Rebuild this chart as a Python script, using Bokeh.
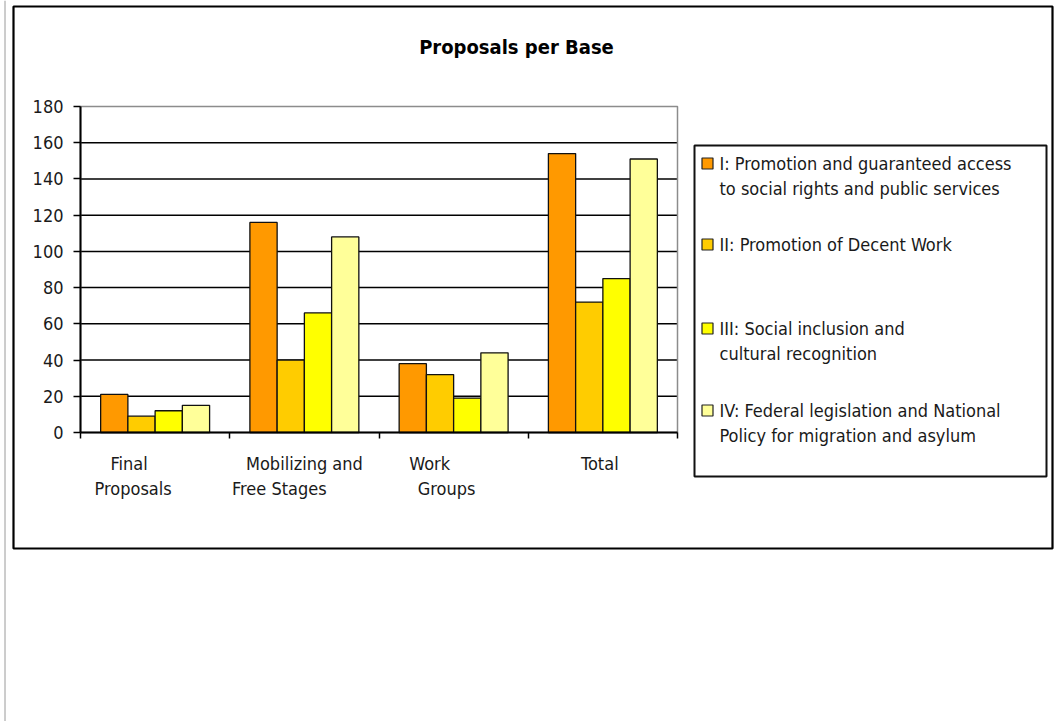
from bokeh.plotting import figure
from bokeh.models import (FixedTicker, Label, Range1d, ColumnDataSource,
                          LinearAxis, BoxAnnotation, Span)
from bokeh.embed import file_html
from bokeh.resources import INLINE
from bokeh.core.properties import value
import numpy as np

# ---- data ----
categories = ["Final\nProposals", "Mobilizing and\nFree Stages", "Work\nGroups", "Total"]
series_names = [
    "I: Promotion and guaranteed access\nto social rights and public services",
    "II: Promotion of Decent Work",
    "III: Social inclusion and\ncultural recognition",
    "IV: Federal legislation and National\nPolicy for migration and asylum",
]
s1 = [21, 116, 38, 154]
s2 = [9, 40, 32, 72]
s3 = [12, 66, 19, 85]
s4 = [15, 108, 44, 151]
y_ticks = [0, 20, 40, 60, 80, 100, 120, 140, 160, 180]
title_text = "Proposals per Base"

# ---- style / layout ----
colors = ["#FF9900", "#FFCC00", "#FFFF00", "#FFFF99"]
FONT = "DejaVu Sans Condensed"
TXT = "#1a1a1a"
FS = "18px"
bar_w = 0.1825
W, H = 1062, 721
# plot area in canvas pixels (Excel-like inner plot area)
PX0, PX1, PY0, PY1 = 80, 677, 106, 432
# per-line category label offsets (pixels) to mimic the original's wrapping
line_dx = [[-26, -22], [0, -25], [-24, -7], [-3]]
# legend layout (canvas pixels)
LEG_BOX = (694, 1046, 145, 476)
LEG_SQ_X, LEG_TXT_X = 707, 719
LEG_ROW_Y = [163, 244, 328, 410]
LEG_LINE = 25

n = len(categories)
ymax = y_ticks[-1]
xs_per = (PX1 - PX0) / n
ys_per = (PY1 - PY0) / ymax
x_range = Range1d(-PX0 / xs_per, n + (W - PX1) / xs_per)
y_range = Range1d(-(H - PY1) / ys_per, PY1 / ys_per)


def cx(px):
    return (px - PX0) / xs_per


def cy(py):
    return (PY1 - py) / ys_per


p = figure(width=W, height=H, x_range=x_range, y_range=y_range,
           output_backend="svg", toolbar_location=None,
           x_axis_location=None, y_axis_location=None,
           min_border=0, min_border_left=0, min_border_right=0,
           min_border_top=0, min_border_bottom=0)
p.background_fill_color = "white"
p.border_fill_color = "white"
p.outline_line_color = None
p.grid.visible = False

# chart border + page edge
p.add_layout(BoxAnnotation(left=13, right=1052, top=6, bottom=548,
                           left_units="canvas", right_units="canvas",
                           top_units="canvas", bottom_units="canvas",
                           fill_color=None, fill_alpha=0, line_color="black",
                           line_alpha=1, line_width=2.2))
p.add_layout(Span(location=4.5, location_units="canvas", dimension="height",
                  line_color="#9a9a9a", line_width=1))

# grid lines (from tick values) and plot-area border
p.segment(x0=0, x1=n, y0=y_ticks[1:-1], y1=y_ticks[1:-1], line_color="black", line_width=1.5)
p.quad(left=[0], right=[n], bottom=[0], top=[ymax], fill_color=None,
       line_color="#8c8c8c", line_width=1.5)

# bars
for j, vals in enumerate([s1, s2, s3, s4]):
    xs = np.arange(n) + 0.5 + (j - 1.5) * bar_w
    src = ColumnDataSource(dict(x=xs, top=vals))
    p.vbar(x="x", top="top", width=bar_w, source=src, fill_color=colors[j],
           line_color="#111111", line_width=1.3)

# axes
ya = LinearAxis(fixed_location=0, bounds=(0, ymax), ticker=FixedTicker(ticks=y_ticks))
ya.major_tick_out = 7
ya.major_tick_in = 0
ya.minor_tick_out = 0
ya.minor_tick_in = 0
ya.axis_line_width = 2
ya.major_tick_line_width = 1.5
ya.major_label_text_font = FONT
ya.major_label_text_font_size = FS
ya.major_label_text_color = TXT
ya.major_label_standoff = 10
p.add_layout(ya, "left")

xa = LinearAxis(fixed_location=0, bounds=(0, n), ticker=FixedTicker(ticks=list(range(n + 1))))
xa.major_tick_out = 6
xa.major_tick_in = 0
xa.minor_tick_out = 0
xa.minor_tick_in = 0
xa.axis_line_width = 2
xa.major_tick_line_width = 1.5
xa.major_label_text_font_size = "0px"
xa.major_label_text_alpha = 0
p.add_layout(xa, "below")

# category labels (multi-line, per-line offset)
lx, ly, lt, ldx, ldy = [], [], [], [], []
for i, cat in enumerate(categories):
    for k, line in enumerate(cat.split("\n")):
        lx.append(i + 0.5)
        ly.append(0)
        lt.append(line)
        ldx.append(line_dx[i][k])
        ldy.append(31 + 25 * k)
p.text(x=lx, y=ly, text=lt, x_offset=ldx, y_offset=ldy, text_font=value(FONT),
       text_font_size=FS, text_color=TXT, text_align="center", text_baseline="middle")

# legend (drawn from the series names / colours)
l, r, t, b = LEG_BOX
p.add_layout(BoxAnnotation(left=l, right=r, top=t, bottom=b,
                           left_units="canvas", right_units="canvas",
                           top_units="canvas", bottom_units="canvas",
                           fill_color=None, fill_alpha=0, line_color="#111111",
                           line_alpha=1, line_width=2))
p.rect(x=[cx(LEG_SQ_X)] * len(series_names), y=[cy(v) for v in LEG_ROW_Y],
       width=11, height=11, width_units="screen", height_units="screen",
       fill_color=colors, line_color="#222222", line_width=1.2)
tx, ty, tt = [], [], []
for j, nm in enumerate(series_names):
    for k, line in enumerate(nm.split("\n")):
        tx.append(cx(LEG_TXT_X))
        ty.append(cy(LEG_ROW_Y[j] + LEG_LINE * k))
        tt.append(line)
p.text(x=tx, y=ty, text=tt, text_font=value(FONT), text_font_size=FS, text_color=TXT,
       text_align="left", text_baseline="middle")

p.add_layout(Label(x=516, y=46, x_units="canvas", y_units="canvas", text=title_text,
                   text_font=FONT, text_font_style="bold", text_font_size="20px",
                   text_align="center", text_baseline="middle", text_color="black"))

open("out.html", "w").write(file_html(p, INLINE))
